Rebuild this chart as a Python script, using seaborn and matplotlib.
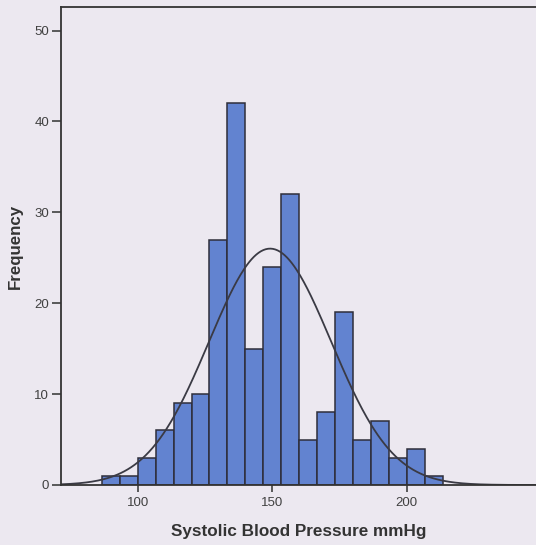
import numpy as np
import pandas as pd
import seaborn as sns
import matplotlib
matplotlib.use('Agg')
import matplotlib.pyplot as plt

# 直方图数据
bin_start = 86.667
bin_width = 100 / 15
counts = [1, 1, 3, 6, 9, 10, 27, 42, 15, 24, 32, 5, 8, 19, 5, 7, 3, 4, 1]
# 正态曲线参数
curve_mean = 149.2
curve_sd = 22.7
x_ticks = [100, 150, 200]
y_ticks = [0, 10, 20, 30, 40, 50]

mids = bin_start + bin_width * (np.arange(len(counts)) + 0.5)
df = pd.DataFrame({'sbp': mids, 'n': counts})

sns.set_style('ticks')
plt.rcParams['font.family'] = ['Liberation Sans', 'DejaVu Sans']

bg = '#ece8f0'
fig = plt.figure(figsize=(5.36, 5.45), dpi=100, facecolor=bg)
ax = fig.add_axes([0.1138, 0.1101, 0.8862, 0.8771])
ax.set_facecolor(bg)

sns.histplot(data=df, x='sbp', weights='n', binwidth=bin_width,
             binrange=(bin_start, bin_start + bin_width * len(counts)), ax=ax,
             color='#6283d0', edgecolor='#2e2e3a', linewidth=1.1, alpha=1)

xs = np.linspace(71.5, 248, 400)
total = sum(counts)
ys = total * bin_width / (curve_sd * np.sqrt(2 * np.pi)) * np.exp(-0.5 * ((xs - curve_mean) / curve_sd) ** 2)
sns.lineplot(x=xs, y=ys, ax=ax, color='#3a3a44', linewidth=1.3)

ax.set_xlim(71.5, 248)
ax.set_ylim(0, 52.6)
ax.set_xticks(x_ticks)
ax.set_yticks(y_ticks)
ax.tick_params(axis='both', labelsize=9.5, colors='#404040', width=1.2)
ax.tick_params(axis='y', length=6.5, pad=2)
ax.tick_params(axis='x', length=5, pad=4)

for s in ['left', 'bottom', 'top']:
    ax.spines[s].set_color('#333333')
    ax.spines[s].set_linewidth(1.3)
ax.spines['right'].set_visible(False)

ax.set_xlabel('Systolic Blood Pressure mmHg', fontsize=12.3, fontweight='bold', color='#333333')
ax.set_ylabel('Frequency', fontsize=12.2, fontweight='bold', color='#333333')
ax.xaxis.set_label_coords(0.5, -0.097)
ax.yaxis.set_label_coords(-0.095, 0.5)
ax.xaxis.label.set_va('center')
ax.yaxis.label.set_va('center')

plt.savefig('out.png', dpi=100, facecolor=bg)
